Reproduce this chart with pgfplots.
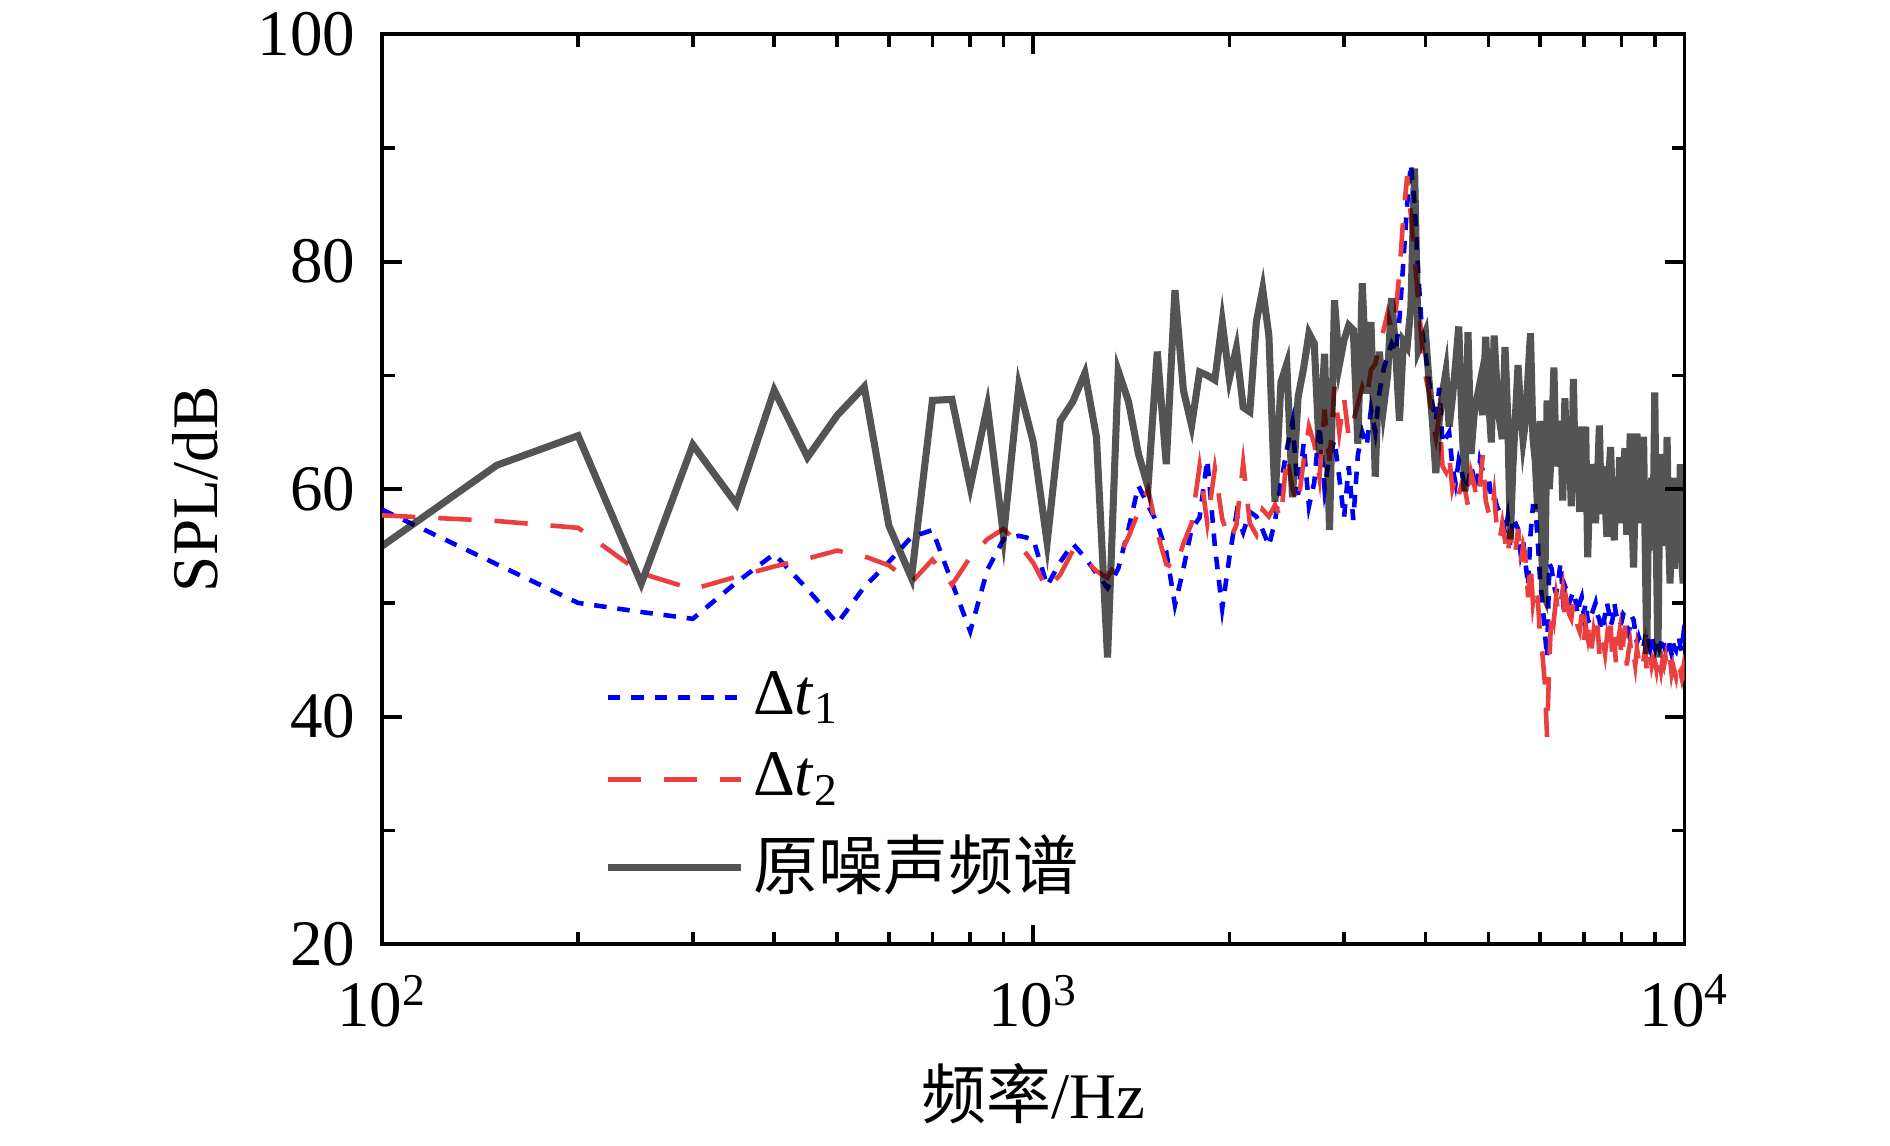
\documentclass[border=0pt]{standalone}
\usepackage{fontspec}
\setmainfont{Liberation Serif}
\newfontfamily\cjk{Noto Sans CJK SC}
\usepackage{pgfplots}
\usepackage{pgfplotstable}
\pgfplotsset{compat=1.18}
\definecolor{myred}{RGB}{235,62,62}
\definecolor{myblue}{RGB}{0,0,250}

\pgfplotstableread{
f y
100 58.2
150 53.4
200 50.0
250 49.2
300 48.6
350 51.8
400 54.3
450 51.2
500 48.2
550 51.4
600 53.6
650 55.8
700 56.4
750 51.8
800 47.5
850 52.9
900 55.6
950 55.9
1000 55.6
1050 51.5
1100 53.6
1150 55.2
1200 54.0
1250 52.6
1300 51.3
1350 53.0
1400 56.5
1450 60.3
1500 58.6
1550 57.0
1600 54.5
1650 49.8
1700 53.0
1750 56.5
1800 57.5
1850 62.6
1900 55.0
1950 49.5
2000 54.0
2050 57.8
2100 56.2
2150 58.0
2200 57.6
2250 56.4
2300 55.0
2350 57.2
2400 60.5
2450 63.5
2500 65.9
2550 59.5
2600 64.0
2650 58.5
2700 60.6
2750 65.6
2800 60.0
2850 63.0
2900 64.3
2950 61.0
3000 57.5
3050 62.0
3100 57.3
3150 63.0
3200 65.0
3250 63.8
3300 67.0
3350 65.0
3400 68.5
3450 70.5
3500 71.8
3550 72.8
3600 72.0
3650 75.0
3700 80.0
3750 85.0
3800 88.6
3850 85.0
3900 79.0
3950 74.0
4000 72.0
4050 69.5
4100 67.5
4150 66.0
4200 68.9
4250 64.0
4300 64.5
4350 65.0
4400 62.0
4450 60.5
4500 62.5
4550 61.5
4600 59.9
4650 60.5
4700 62.0
4750 61.0
4800 60.0
4850 62.5
4900 61.6
4950 60.0
5000 61.0
5050 59.3
5100 59.5
5150 58.5
5200 58.0
5250 57.5
5300 56.0
5350 57.5
5400 55.0
5450 57.5
5500 57.0
5550 56.5
5600 54.4
5650 55.5
5700 53.5
5750 51.5
5800 56.0
5850 58.5
5900 58.5
5950 55.5
6000 52.0
6050 50.0
6100 47.5
6150 45.2
6200 53.5
6250 53.0
6300 51.5
6350 50.8
6400 52.0
6450 53.5
6500 50.7
6550 51.5
6600 51.0
6650 50.0
6700 50.5
6750 51.0
6800 50.2
6850 49.0
6900 50.0
6950 50.5
7000 49.0
7050 50.0
7100 48.5
7150 48.2
7200 49.0
7250 49.5
7300 50.0
7350 49.0
7400 48.5
7450 47.5
7500 48.0
7550 49.0
7600 50.0
7650 49.2
7700 48.0
7750 48.5
7800 50.0
7850 49.0
7900 48.5
7950 48.0
8000 48.3
8050 49.0
8100 48.8
8150 48.0
8200 47.4
8250 48.0
8300 48.8
8350 48.5
8400 47.5
8450 46.5
8500 47.0
8550 46.5
8600 46.0
8650 46.2
8700 47.0
8750 47.5
8800 46.5
8850 46.0
8900 47.0
8950 46.5
9000 46.0
9050 46.8
9100 46.5
9150 46.0
9200 46.4
9250 47.0
9300 46.2
9350 45.8
9400 46.2
9450 46.8
9500 46.0
9550 45.5
9600 46.5
9650 46.0
9700 45.8
9750 46.5
9800 47.0
9850 46.2
9900 45.8
9950 47.0
10000 46.5
}\tblone

\pgfplotstableread{
f y
100 57.7
150 57.2
200 56.6
250 52.6
300 51.2
350 52.3
400 53.2
450 53.9
500 54.6
550 54.1
600 53.3
650 51.8
700 53.8
750 51.6
800 54.0
850 55.6
900 56.5
950 55.2
1000 53.5
1050 51.2
1100 52.5
1150 54.6
1200 53.8
1250 52.8
1300 52.2
1350 54.0
1400 55.8
1450 58.0
1500 60.0
1550 56.2
1600 53.4
1650 53.0
1700 55.2
1750 57.0
1800 62.0
1850 57.0
1900 61.8
1950 57.4
2000 55.5
2050 56.8
2100 62.3
2150 57.0
2200 56.0
2250 58.2
2300 57.6
2350 58.6
2400 57.4
2450 63.0
2500 60.0
2550 58.6
2600 62.5
2650 65.5
2700 64.0
2750 61.0
2800 67.0
2850 62.5
2900 69.0
2950 65.0
3000 68.0
3050 64.6
3100 66.0
3150 67.5
3200 69.0
3250 68.0
3300 70.5
3350 71.0
3400 72.5
3450 74.0
3500 75.5
3550 74.0
3600 75.5
3650 79.0
3700 84.0
3750 87.5
3800 84.0
3850 80.5
3900 76.5
3950 73.0
4000 70.0
4050 68.5
4100 66.0
4150 64.5
4200 66.5
4250 62.0
4300 61.5
4350 63.0
4400 60.0
4450 61.0
4500 59.5
4550 60.5
4600 60.0
4650 58.5
4700 61.5
4750 60.5
4800 59.0
4850 60.5
4900 63.0
4950 59.0
5000 58.0
5050 57.5
5100 59.5
5150 56.5
5200 55.5
5250 57.0
5300 55.5
5350 54.0
5400 56.5
5450 54.0
5500 54.5
5550 56.5
5600 53.5
5650 55.0
5700 54.0
5750 50.5
5800 53.5
5850 50.0
5900 51.5
5950 50.5
6000 47.0
6050 45.5
6100 43.0
6150 38.2
6200 45.0
6250 49.5
6300 48.5
6350 50.5
6400 49.0
6450 50.0
6500 51.2
6550 48.5
6600 50.0
6650 49.0
6700 48.6
6750 50.0
6800 49.5
6850 48.0
6900 47.5
6950 49.0
7000 46.5
7050 48.0
7100 47.0
7150 48.5
7200 46.0
7250 47.5
7300 46.5
7350 48.0
7400 45.5
7450 47.0
7500 46.5
7550 45.5
7600 47.0
7650 46.0
7700 48.0
7750 45.0
7800 47.0
7850 44.5
7900 46.5
7950 47.5
8000 45.0
8050 46.5
8100 48.0
8150 44.5
8200 45.7
8250 46.5
8300 45.0
8350 45.5
8400 44.5
8450 46.0
8500 45.0
8550 45.5
8600 44.5
8650 45.0
8700 46.0
8750 44.0
8800 45.0
8850 45.5
8900 44.5
8950 45.2
9000 45.0
9050 44.2
9100 45.5
9150 44.8
9200 44.0
9250 45.0
9300 44.5
9350 45.2
9400 44.0
9450 44.8
9500 45.0
9550 43.8
9600 44.5
9650 44.0
9700 43.5
9750 44.6
9800 43.8
9850 44.0
9900 43.4
9950 44.2
10000 43.2
}\tbltwo

\pgfplotstableread{
f y
100 55.0
150 62.1
200 64.7
250 51.7
300 63.9
350 58.7
400 68.7
450 62.8
500 66.5
550 69.0
600 56.8
650 52.2
700 67.8
750 67.9
800 60.2
850 67.3
900 55.9
950 69.1
1000 64.1
1050 55.3
1100 66.0
1150 67.7
1200 70.2
1250 64.6
1300 45.2
1350 70.4
1400 67.7
1450 63.1
1500 60.2
1550 72.1
1600 62.2
1650 77.5
1700 68.7
1750 65.6
1800 70.3
1850 70.0
1900 69.6
1950 74.7
2000 69.7
2050 72.4
2100 67.2
2150 66.8
2200 74.7
2250 77.6
2300 73.5
2350 58.9
2400 69.4
2450 71.0
2500 59.3
2550 68.1
2600 70.6
2650 73.7
2700 72.8
2750 63.1
2800 71.9
2850 56.4
2900 76.6
2950 70.9
3000 73.1
3050 74.4
3100 74.0
3150 64.0
3200 78.1
3250 68.4
3300 74.7
3350 61.1
3400 72.1
3450 67.2
3500 70.0
3550 76.8
3600 72.2
3650 66.0
3700 73.0
3750 72.5
3800 76.0
3850 88.2
3900 72.2
3950 73.0
4000 73.8
4050 69.6
4100 66.0
4150 61.4
4200 66.0
4250 68.5
4300 70.3
4350 65.5
4400 68.0
4450 71.0
4500 74.3
4550 66.0
4600 59.8
4650 73.8
4700 63.1
4750 66.5
4800 68.0
4850 69.3
4900 66.5
4950 73.4
5000 68.0
5050 64.1
5100 73.5
5150 69.0
5200 66.0
5250 64.4
5300 72.5
5350 66.5
5400 55.6
5450 62.0
5500 66.5
5550 70.9
5600 67.0
5650 64.3
5700 66.0
5750 70.0
5800 73.7
5850 64.5
5900 62.4
5950 58.0
6000 66.0
6050 51.0
6100 50.5
6150 67.8
6200 60.0
6250 64.0
6300 70.7
6350 62.0
6400 63.4
6450 66.0
6500 59.0
6550 68.0
6600 61.0
6650 64.0
6700 58.5
6750 69.7
6800 60.0
6850 64.0
6900 58.0
6950 65.5
7000 62.0
7050 65.5
7100 54.0
7150 60.0
7200 58.5
7250 62.2
7300 57.0
7350 61.0
7400 65.6
7450 57.8
7500 62.0
7550 59.0
7600 55.8
7650 61.0
7700 63.7
7750 58.0
7800 55.5
7850 61.0
7900 58.0
7950 62.8
8000 57.0
8050 61.5
8100 63.6
8150 56.0
8200 57.3
8250 64.9
8300 58.0
8350 53.1
8400 60.0
8450 64.9
8500 57.0
8550 59.0
8600 62.0
8650 64.6
8700 55.0
8750 45.5
8800 58.0
8850 54.6
8900 61.0
8950 57.0
9000 68.5
9050 55.0
9100 45.2
9150 58.0
9200 63.1
9250 55.0
9300 60.0
9350 57.0
9400 64.6
9450 56.0
9500 51.7
9550 58.0
9600 61.0
9650 53.0
9700 57.0
9750 59.6
9800 55.0
9850 62.2
9900 54.0
9950 51.7
10000 60.5
}\tblthree

\begin{document}
\fontsize{15.6pt}{18pt}\selectfont
\begin{tikzpicture}
\begin{axis}[
  at={(0,0)}, anchor=south west,
  scale only axis, width=312.6pt, height=218.4pt,
  xmode=log, xmin=100, xmax=10000, ymin=20, ymax=100,
  xtick={100,1000,10000},
  xticklabels={10\textsuperscript{2},10\textsuperscript{3},10\textsuperscript{4}},
  ytick={20,40,60,80,100}, minor ytick={30,50,70,90},
  tick align=inside, major tick length=4.7pt, minor tick length=3pt,
  axis line style={line width=0.9pt},
  every tick/.style={line width=0.9pt, black},
  tick label style={font=\fontsize{15.6pt}{18pt}\selectfont},
  /pgf/number format/assume math mode=true,
  xticklabel style={yshift=-2pt},
  yticklabel style={xshift=-1pt},
  xlabel={{\cjk 频率}/Hz}, ylabel={SPL/dB},
  label style={font=\fontsize{15.6pt}{18pt}\selectfont},
  xlabel style={yshift=2pt},
  ylabel style={yshift=-1pt},
  legend style={draw=none, fill=none, at={(0.17,0.31)}, anchor=north west,
    font=\fontsize{15.6pt}{18pt}\selectfont, row sep=3pt, inner sep=0pt},
  legend cell align=left,
  legend image code/.code={\draw[#1] (0pt,0pt) -- (32pt,0pt);},
]
\addplot[myblue, line width=1.1pt, dash pattern=on 3pt off 2.6pt] table[x=f,y=y] {\tblone};
\addlegendentry{Δ\textit{t}\textsubscript{1}}
\addplot[myred, line width=1.1pt, dash pattern=on 8pt off 5.5pt] table[x=f,y=y] {\tbltwo};
\addlegendentry{Δ\textit{t}\textsubscript{2}}
\addplot[black, opacity=0.67, line width=1.7pt] table[x=f,y=y] {\tblthree};
\addlegendentry{{\cjk 原噪声频谱}}
\end{axis}
\pgfresetboundingbox
\path[use as bounding box] (-91.7pt,-48.4pt) rectangle (361.9pt,226.6pt);
\end{tikzpicture}
\end{document}
